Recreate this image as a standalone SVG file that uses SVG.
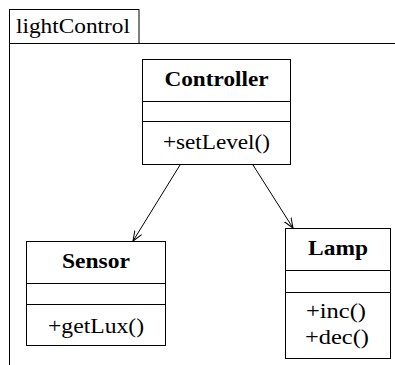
<svg xmlns="http://www.w3.org/2000/svg" width="395" height="365" viewBox="0 0 395 365">
<style>
.box{fill:#fff;stroke:#000;stroke-width:1}
.ln{stroke:#000;stroke-width:1;fill:none}
.b{font-weight:bold;text-anchor:middle}
.m{text-anchor:middle}
.edge{stroke:#000;stroke-width:1;fill:none;marker-end:url(#arr)}
</style>
<defs>
<marker id="arr" viewBox="0 0 10 10" refX="10" refY="5" markerWidth="10" markerHeight="10" markerUnits="userSpaceOnUse" orient="auto">
<path d="M0,1 L10,5 L0,9" fill="none" stroke="#000" stroke-width="1"/>
</marker>
</defs>
<g font-family="Liberation Serif, DejaVu Serif, serif" font-size="21" fill="#000">
<g id="frame">
<rect class="box" x="9.5" y="9.5" width="129.5" height="34"/>
<line class="ln" x1="139" y1="43.5" x2="395" y2="43.5"/>
<line class="ln" x1="9.5" y1="43.5" x2="9.5" y2="365"/>
<text x="16" y="33" textLength="114" lengthAdjust="spacingAndGlyphs">lightControl</text>
</g>
<g id="connectors">
<line class="edge" x1="180" y1="165" x2="133" y2="241"/>
<line class="edge" x1="253" y1="165" x2="293" y2="228"/>
</g>
<g id="Controller">
<rect class="box" x="142.5" y="59.5" width="148" height="105"/>
<line class="ln" x1="142.5" y1="101.5" x2="290.5" y2="101.5"/>
<line class="ln" x1="142.5" y1="121.5" x2="290.5" y2="121.5"/>
<text class="b" x="216.5" y="86" textLength="104" lengthAdjust="spacingAndGlyphs">Controller</text>
<text class="m" x="216.5" y="149" textLength="107" lengthAdjust="spacingAndGlyphs">+setLevel()</text>
</g>
<g id="Sensor">
<rect class="box" x="26.5" y="241.5" width="139" height="104"/>
<line class="ln" x1="26.5" y1="283.5" x2="165.5" y2="283.5"/>
<line class="ln" x1="26.5" y1="304.5" x2="165.5" y2="304.5"/>
<text class="b" x="96" y="268" textLength="68" lengthAdjust="spacingAndGlyphs">Sensor</text>
<text class="m" x="96" y="333" textLength="96" lengthAdjust="spacingAndGlyphs">+getLux()</text>
</g>
<g id="Lamp">
<rect class="box" x="285.5" y="228.5" width="105" height="130"/>
<line class="ln" x1="285.5" y1="270.5" x2="390.5" y2="270.5"/>
<line class="ln" x1="285.5" y1="292.5" x2="390.5" y2="292.5"/>
<text class="b" x="338" y="255" textLength="60" lengthAdjust="spacingAndGlyphs">Lamp</text>
<text class="m" x="336" y="318" textLength="60" lengthAdjust="spacingAndGlyphs">+inc()</text>
<text class="m" x="337" y="344" textLength="64" lengthAdjust="spacingAndGlyphs">+dec()</text>
</g>
</g>
</svg>
